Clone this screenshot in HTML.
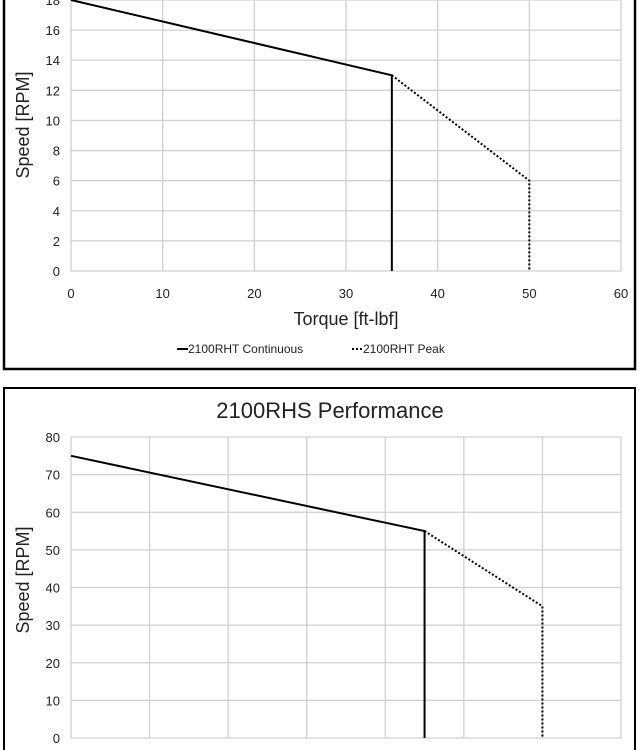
<!DOCTYPE html>
<html><head><meta charset="utf-8"><style>
body{margin:0;background:#fff;width:639px;height:750px;overflow:hidden;font-family:"Liberation Sans",sans-serif}
svg{display:block}
</style></head><body>
<svg id="s" width="639" height="750" xmlns="http://www.w3.org/2000/svg">
<rect x="0" y="0" width="639" height="750" fill="#fff"/>
<path d="M4,-5 L4,369 L635,369 L635,-5" fill="none" stroke="#000" stroke-width="2.5"/>
<path d="M4,755 L4,388 L635,388 L635,755" fill="none" stroke="#000" stroke-width="2"/>
<g id="top"></g>
<g id="bot"></g>
<text x="330" y="418" font-size="22" text-anchor="middle" fill="#222">2100RHS Performance</text>
<text x="346" y="325" font-size="18" text-anchor="middle" fill="#222">Torque [ft-lbf]</text>
<text transform="translate(29,125) rotate(-90)" font-size="18" text-anchor="middle" fill="#222">Speed  [RPM]</text>
<text transform="translate(29,580) rotate(-90)" font-size="18" text-anchor="middle" fill="#222">Speed  [RPM]</text>
<g>
<line x1="177" y1="349" x2="188" y2="349" stroke="#000" stroke-width="2"/>
<text x="188" y="353" font-size="12" fill="#222">2100RHT Continuous</text>
<line x1="352" y1="349" x2="363" y2="349" stroke="#000" stroke-width="2" stroke-dasharray="2,2"/>
<text x="363" y="353" font-size="12" fill="#222">2100RHT Peak</text>
</g>
</svg>
<script>
// Top chart (2100RHT)
const topXTicks=[0,10,20,30,40,50,60];
const topYTicks=[0,2,4,6,8,10,12,14,16,18];
const topContX=[0,35,35];
const topContY=[18,13,0];
const topPeakX=[35,50,50];
const topPeakY=[13,6,0];
// Bottom chart (2100RHS)
const botXTicks=[0,20,40,60,80,100,120,140];
const botYTicks=[0,10,20,30,40,50,60,70,80];
const botContX=[0,90,90];
const botContY=[75,55,0];
const botPeakX=[90,120,120];
const botPeakY=[55,35,0];

const NS='http://www.w3.org/2000/svg';
function mk(tag,attrs,parent){const e=document.createElementNS(NS,tag);for(const k in attrs)e.setAttribute(k,attrs[k]);parent.appendChild(e);return e;}
function draw(g,cfg){
  const sx=v=>cfg.l+(v-cfg.xmin)/(cfg.xmax-cfg.xmin)*(cfg.r-cfg.l);
  const sy=v=>cfg.b-(v-cfg.ymin)/(cfg.ymax-cfg.ymin)*(cfg.b-cfg.t);
  cfg.xt.forEach(v=>{
    const ln=mk('line',{x1:sx(v),x2:sx(v),y1:cfg.t,y2:cfg.b,stroke:'#d0d0d0','stroke-width':1.3},g);
    
    
    if(cfg.xlabels){
      const t=mk('text',{x:sx(v),y:cfg.b+27,'font-size':13,'text-anchor':'middle',fill:'#222'},g);
      t.textContent=v;
      
      
    }
  });
  cfg.yt.forEach(v=>{
    const ln=mk('line',{x1:cfg.l,x2:cfg.r,y1:sy(v),y2:sy(v),stroke:'#d0d0d0','stroke-width':1.3},g);
    
    
    const t=mk('text',{x:cfg.l-11,y:sy(v)+5,'font-size':13,'text-anchor':'end',fill:'#222'},g);
    t.textContent=v;
    
    
  });
  const p1=mk('polyline',{points:cfg.cx.map((x,i)=>sx(x)+','+sy(cfg.cy[i])).join(' '),fill:'none',stroke:'#000','stroke-width':2},g);
  
  
  const p2=mk('polyline',{points:cfg.px.map((x,i)=>sx(x)+','+sy(cfg.py[i])).join(' '),fill:'none',stroke:'#000','stroke-width':2,'stroke-dasharray':'2,2'},g);
  
  
}
draw(document.getElementById('top'),{l:71,r:621,t:0,b:271,xmin:0,xmax:60,ymin:0,ymax:18,xt:topXTicks,yt:topYTicks,xlabels:true,cx:topContX,cy:topContY,px:topPeakX,py:topPeakY});
draw(document.getElementById('bot'),{l:71,r:621,t:437,b:738,xmin:0,xmax:140,ymin:0,ymax:80,xt:botXTicks,yt:botYTicks,xlabels:false,cx:botContX,cy:botContY,px:botPeakX,py:botPeakY});
</script>
</body></html>
